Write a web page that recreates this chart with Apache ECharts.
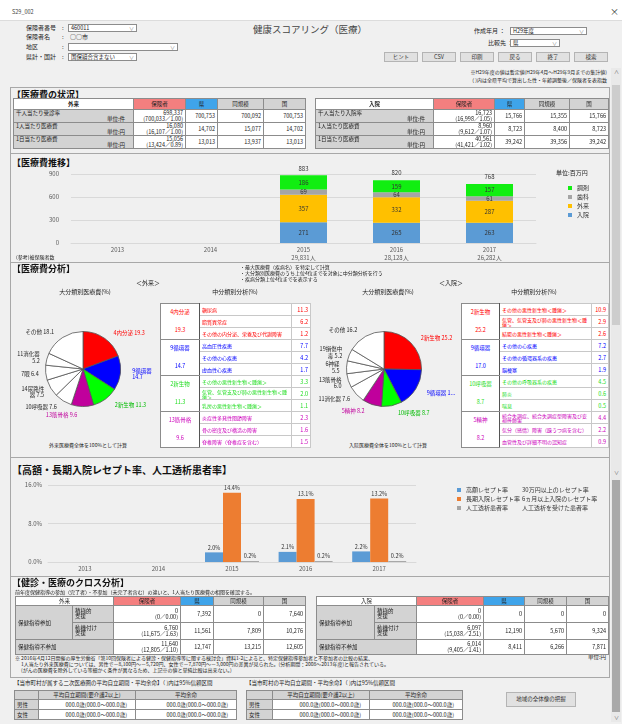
<!DOCTYPE html>
<html lang="ja">
<head>
<meta charset="utf-8">
<title>健康スコアリング（医療）</title>
<script src="https://cdn.jsdelivr.net/npm/echarts@6.0.0/dist/echarts.min.js"></script>
<style>
  html, body { margin: 0; padding: 0; }
  body { width: 622px; height: 724px; overflow: hidden; background: #f0f0f0; font-family: "Noto Sans CJK JP", "Noto Sans", sans-serif; color: #222; }
  #page { position: relative; width: 622px; height: 724px; }
  .a { position: absolute; white-space: nowrap; line-height: 1; }
  .f5 { font-size: 5px; }
  .f55 { font-size: 5.5px; }
  .f6 { font-size: 6px; }
  .ctr { text-align: center; width: 200px; }
  .head { font-size: 9px; font-weight: bold; color: #111; }
  .sel { position: absolute; box-sizing: border-box; height: 8px; background: #fff; border: 1px solid #8c8c8c; font-size: 5.5px; line-height: 6px; padding-left: 2px; white-space: nowrap; }
  .sel:after { content: "∨"; position: absolute; right: 2px; top: 0; color: #888; font-size: 5px; }
  .btn { position: absolute; box-sizing: border-box; top: 52px; width: 34px; height: 10px; background: #e1e1e1; border: 1px solid #b4b4b4; font-size: 5.5px; line-height: 8px; text-align: center; color: #333; }
  .box { position: absolute; left: 10px; width: 600px; box-sizing: border-box; border: 1px solid #a8a8a8; }
  table { position: absolute; border-collapse: collapse; table-layout: fixed; font-size: 5.5px; line-height: 6px; color: #222; }
  td { border: 1px solid #8c8c8c; padding: 0 2px; overflow: hidden; white-space: nowrap; background: #fff; }
  td.c { text-align: center; }
  td.r { text-align: right; }
  .chart { position: absolute; }
</style>
</head>
<body>
<div id="page">
  <!-- window title -->
  <div class="a" style="left:0;top:0;width:622px;height:20px;background:#fff;border-bottom:1px solid #dcdcdc"></div>
  <div class="a f55" style="left:12px;top:10px;color:#444">S29_002</div>
  <div class="a" style="left:610px;top:7px;font-size:9px;color:#333">×</div>

  <!-- form -->
  <div class="a f6" style="left:26px;top:25px">保険者番号</div><div class="a f6" style="left:62px;top:25px">:</div>
  <div class="sel" style="left:68px;top:24px;width:69px">460011</div>
  <div class="a f6" style="left:26px;top:34px">保険者名</div><div class="a f6" style="left:62px;top:34px">:</div>
  <div class="a f6" style="left:70px;top:34px">○○市</div>
  <div class="a f6" style="left:26px;top:44px">地区</div><div class="a f6" style="left:62px;top:44px">:</div>
  <div class="sel" style="left:68px;top:43px;width:110px"></div>
  <div class="a f6" style="left:26px;top:54px">県計・国計</div><div class="a f6" style="left:62px;top:54px">:</div>
  <div class="sel" style="left:68px;top:53px;width:69px">国保組合含まない</div>

  <div class="a" style="left:210px;top:25px;width:200px;text-align:center;font-size:9.5px;color:#444">健康スコアリング（医療）</div>

  <div class="a f6" style="left:474px;top:28px">作成年月 ：</div>
  <div class="sel" style="left:510px;top:27px;width:77px">H29年度</div>
  <div class="a f6" style="left:488px;top:40px">比較先 ：</div>
  <div class="sel" style="left:510px;top:39px;width:50px">県</div>

  <div class="btn" style="left:384px">ヒント</div>
  <div class="btn" style="left:422px">CSV</div>
  <div class="btn" style="left:460px">印刷</div>
  <div class="btn" style="left:498px">戻る</div>
  <div class="btn" style="left:536px">終了</div>
  <div class="btn" style="left:574px">検索</div>

  <div class="a f5" style="right:15px;top:69px">※H29年度の値は暫定値(H29年4月～H29年9月までの集計値)</div>
  <div class="a f5" style="right:15px;top:77px">（ )内は全県平均で算出した性・年齢調整後／保険者を表指数</div>

  <!-- scrollbars -->
  <div class="a" style="left:611px;top:68px;width:10px;height:654px;background:#e9e9e9"></div>
  <div class="a" style="left:612px;top:85px;width:8px;height:240px;background:#cdcdcd"></div>
  <div class="a" style="left:612px;top:480px;width:8px;height:232px;background:#a9a9a9"></div>
  <div class="a f5" style="left:614px;top:69px;color:#666">∧</div>
  <div class="a f5" style="left:614px;top:469px;color:#666">∨</div>
  <div class="a f5" style="left:614px;top:714px;color:#666">∨</div>

  <!-- section boxes -->
  <div class="box" style="top:87px;height:67px"></div>
  <div class="box" style="top:153px;height:110px"></div>
  <div class="box" style="top:262px;height:196px"></div>
  <div class="box" style="top:457px;height:120px"></div>
  <div class="box" style="top:576px;height:102px"></div>

  <!-- section 1 -->
  <div class="a head" style="left:12px;top:90px">【医療費の状況】</div>

  <!-- section 2 -->
  <div class="a head" style="left:12px;top:158px">【医療費推移】</div>
  <div class="chart" id="trendChart" style="left:10px;top:165px;width:600px;height:97px"></div>
  <div class="a f5" style="left:16px;top:254px">(参考)被保険者数</div>
  <div class="a f6" style="left:556px;top:170px">単位:百万円</div>

  <!-- section 3 -->
  <div class="a head" style="left:12px;top:264px">【医療費分析】</div>
  <div class="a f5" style="left:240px;top:264px">・最大医療費（疾病名）を特定して計算</div>
  <div class="a f5" style="left:240px;top:270px">・大分類別医療費のうち上位4位までを対象に中分類分析を行う</div>
  <div class="a f5" style="left:240px;top:276px">・疾病分類上位4位までを表示する</div>
  <div class="a f6 ctr" style="left:48px;top:280px">＜外来＞</div>
  <div class="a f6 ctr" style="left:351px;top:280px">＜入院＞</div>
  <div class="a f6 ctr" style="left:-15px;top:289px">大分類別医療費(%)</div>
  <div class="a f6 ctr" style="left:135px;top:289px">中分類別分析(%)</div>
  <div class="a f6 ctr" style="left:288px;top:289px">大分類別医療費(%)</div>
  <div class="a f6 ctr" style="left:434px;top:289px">中分類別分析(%)</div>
  <div class="chart" id="pieChart" style="left:0px;top:300px;width:460px;height:140px"></div>
  <div class="a f5 ctr" style="left:-12px;top:442px">外来医療費全体を100%として計算</div>
  <div class="a f5 ctr" style="left:288px;top:442px">入院医療費全体を100%として計算</div>

  <!-- section 4 -->
  <div class="a" style="left:12px;top:465px;font-size:10px;font-weight:bold;color:#111">【高額・長期入院レセプト率、人工透析患者率】</div>
  <div class="chart" id="rateChart" style="left:10px;top:475px;width:600px;height:103px"></div>

  <!-- section 5 -->
  <div class="a head" style="left:12px;top:578px">【健診・医療のクロス分析】</div>
  <div class="a f5" style="left:15px;top:589px">前年度保健指導の参加（完了者）・不参加（未完了者含む）の違いと、1人当たり医療費の相関を確認する。</div>
  <div class="a f5" style="left:15px;top:655px">※ 2016年4月12日開催の厚生労働省「第10回保険者による健診・保健指導等に関する検討会」資料1-2によると、特定保健指導参加者と不参加者の比較の結果、</div>
  <div class="a f5" style="left:21px;top:661px">1人当たり外来医療費については、男性で－8,100円～－5,720円、女性で－7,870円～－3,000円の差異が見られた。(分析期間：2008～2013年度)と報告されている。</div>
  <div class="a f5" style="left:21px;top:667px">(がんの医療費を除外している等細かく条件が異なるため、上記※の値と単純比較は出来ない。)</div>
  <div class="a f55" style="left:588px;top:655px">単位:円</div>

  <!-- bottom -->
  <div class="a f55" style="left:14px;top:681px">【当市町村が属する二次医療圏の平均自立期間・平均余命】（ )内は95%信頼区間</div>
  <div class="a f55" style="left:246px;top:681px">【当市町村の平均自立期間・平均余命】（ )内は95%信頼区間</div>
  <div class="btn" style="left:506px;top:692px;width:70px;height:15px;line-height:13px">地域の全体像の把握</div>
</div>

<script>
const FONT = '"Noto Sans CJK JP", "Noto Sans", sans-serif';
const PINK = '#f47f7f', BLUE = '#3fa4ea', GRAY = '#d3d3d3';

// ---- 医療費の状況 ----
const statusOutLabels = ['千人当たり受診率', '1人当たり医療費', '1日当たり医療費'];
const statusOutUnits = ['単位:件', '単位:円', '単位:円'];
const statusOutInsurer = ['698,337', '16,080', '15,056'];
const statusOutAdjusted = ['(700,033／1.00)', '(16,107／1.00)', '(13,424／0.89)'];
const statusOutPref = ['700,753', '14,702', '13,013'];
const statusOutSimilar = ['700,092', '15,077', '13,937'];
const statusOutNation = ['700,753', '14,702', '13,013'];

const statusInLabels = ['千人当たり入院率', '1人当たり医療費', '1日当たり医療費'];
const statusInUnits = ['単位:件', '単位:円', '単位:円'];
const statusInInsurer = ['16,723', '8,960', '40,561'];
const statusInAdjusted = ['(16,998／1.05)', '(9,612／1.07)', '(41,421／1.02)'];
const statusInPref = ['15,766', '8,723', '39,242'];
const statusInSimilar = ['15,355', '8,400', '39,356'];
const statusInNation = ['15,766', '8,723', '39,242'];

// ---- 医療費推移 (百万円) ----
const years = ['2013', '2014', '2015', '2016', '2017'];
const insuredCount = ['', '', '29,831人', '28,128人', '26,282人'];
const costInpatient = [null, null, 271, 265, 263];
const costOutpatient = [null, null, 357, 332, 287];
const costDental = [null, null, 69, 64, 61];
const costPharmacy = [null, null, 186, 159, 157];

// ---- 医療費分析 ----
const outPieNames = ['4内分泌', '9循環器', '2新生物', '13筋骨格', '10呼吸器', '14尿路性\n器', '7眼', '11消化器', 'その他'];
const outPieValues = [19.3, 14.7, 11.3, 9.6, 7.6, 7.5, 6.4, 5.2, 18.1];
const outPieBreak = [false, true, false, false, false, false, false, true, false];
const inPieNames = ['2新生物', '9循環器', '10呼吸器', '5精神', '11消化器', '13筋骨格', '6神経', '19損傷中\n毒', 'その他'];
const inPieValues = [25.2, 17.0, 8.7, 8.2, 7.6, 6.0, 5.5, 5.2, 16.2];
const inPieBreak = [false, false, false, false, false, true, true, false, false];

const outMajor = ['4内分泌', '9循環器', '2新生物', '13筋骨格'];
const outMajorValues = [19.3, 14.7, 11.3, 9.6];
const outMinor = [
  ['糖尿病', '脂質異常症', 'その他の内分泌、栄養及び代謝障害'],
  ['高血圧性疾患', 'その他の心疾患', '虚血性心疾患'],
  ['その他の悪性新生物＜腫瘍＞', '気管、気管支及び肺の悪性新生物＜腫瘍＞', '乳房の悪性新生物＜腫瘍＞'],
  ['炎症性多発性関節障害', '骨の密度及び構造の障害', '脊椎障害（脊椎症を含む）']
];
const outMinorValues = [[11.3, 6.2, 1.2], [7.7, 4.2, 1.7], [3.3, 2.0, 1.1], [2.3, 1.6, 1.5]];

const inMajor = ['2新生物', '9循環器', '10呼吸器', '5精神'];
const inMajorValues = [25.2, 17.0, 8.7, 8.2];
const inMinor = [
  ['その他の悪性新生物＜腫瘍＞', '気管、気管支及び肺の悪性新生物＜腫瘍＞', '結腸の悪性新生物＜腫瘍＞'],
  ['その他の心疾患', 'その他の循環器系の疾患', '脳梗塞'],
  ['その他の呼吸器系の疾患', '肺炎', '喘息'],
  ['統合失調症、統合失調症型障害及び妄想性障害', '気分（感情）障害（躁うつ病を含む）', '血管性及び詳細不明の認知症']
];
const inMinorValues = [[10.9, 2.9, 2.6], [7.2, 2.7, 1.9], [4.5, 0.6, 0.5], [4.4, 2.2, 0.9]];

// ---- 高額・長期入院レセプト率、人工透析患者率 (%) ----
const rateNames = ['高額レセプト率', '長期入院レセプト率', '人工透析患者率'];
const rateNotes = ['30万円以上のレセプト率', '6ヵ月以上入院のレセプト率', '人工透析を受けた患者率'];
const rateHigh = [null, null, 2.0, 2.1, 2.2];
const rateLong = [null, null, 14.4, 13.1, 13.2];
const rateDialysis = [null, null, 0.2, 0.2, 0.2];

// ---- 健診・医療のクロス分析 ----
const crossRowLabels = ['積極的<br>支援', '動機付け<br>支援'];
const crossOutInsurer = ['0', '6,760', '11,640'];
const crossOutAdjusted = ['(0／0.00)', '(11,675／1.63)', '(12,805／1.10)'];
const crossOutPref = ['7,392', '11,561', '12,747'];
const crossOutSimilar = ['0', '7,809', '13,215'];
const crossOutNation = ['7,640', '10,276', '12,605'];
const crossInInsurer = ['0', '6,097', '6,014'];
const crossInAdjusted = ['(0／0.00)', '(15,038／2.51)', '(9,405／1.41)'];
const crossInPref = ['0', '12,190', '8,411'];
const crossInSimilar = ['0', '5,670', '6,266'];
const crossInNation = ['0', '9,324', '7,871'];

// ---- 平均自立期間・平均余命 ----
const lifeRows = ['男性', '女性'];
const lifeIndependent = ['000.0歳(000.0～000.0歳)', '000.0歳(000.0～000.0歳)'];
const lifeExpectancy = ['000.0歳(000.0～000.0歳)', '000.0歳(000.0～000.0歳)'];

const page = document.getElementById('page');

function addTable(left, top, widths, rows, extraStyle) {
    const t = document.createElement('table');
    t.style.left = left + 'px';
    t.style.top = top + 'px';
    t.style.width = widths.reduce((a, b) => a + b, 0) + 'px';
    if (extraStyle) t.style.cssText += extraStyle;
    t.innerHTML = '<colgroup>' + widths.map(w => `<col style="width:${w}px">`).join('') + '</colgroup>' + rows.join('');
    page.appendChild(t);
    return t;
}

function headerCells() {
    return `<td class="c" style="background:${PINK}">保険者</td><td class="c" style="background:${BLUE}">県</td>` +
        `<td class="c" style="background:${GRAY}">同規模</td><td class="c" style="background:${GRAY}">国</td>`;
}

function statusTable(left, widths, title, labels, units, ins, adj, pref, sim, nat) {
    const rows = [`<tr style="height:11px"><td class="c" style="font-weight:bold">${title}</td>${headerCells()}</tr>`];
    labels.forEach((lab, i) => {
        rows.push(`<tr style="height:13px"><td style="background:${GRAY}"><div>${lab}</div><div style="text-align:right;padding-right:6px">${units[i]}</div></td>` +
            `<td class="r"><div>${ins[i]}</div><div>${adj[i]}</div></td>` +
            `<td class="r">${pref[i]}</td><td class="r">${sim[i]}</td><td class="r">${nat[i]}</td></tr>`);
    });
    addTable(left, 98, widths, rows);
}
statusTable(13, [120, 52, 32, 46, 42], '外来', statusOutLabels, statusOutUnits, statusOutInsurer, statusOutAdjusted, statusOutPref, statusOutSimilar, statusOutNation);
statusTable(315, [118, 61, 30, 45, 39], '入院', statusInLabels, statusInUnits, statusInInsurer, statusInAdjusted, statusInPref, statusInSimilar, statusInNation);

const groupColors = ['#ff0000', '#0000ff', '#22dd22', '#cc00bb'];

function minorTable(left, widths, major, majorValues, minor, minorValues) {
    const rows = [];
    major.forEach((m, g) => {
        minor[g].forEach((item, k) => {
            const col = groupColors[g];
            const topLine = (k === 0 && g > 0) ? ';border-top:1.5px solid #555' : '';
            let tr = `<tr style="height:12px${topLine}">`;
            if (k === 0) {
                tr += `<td rowspan="3" class="c" style="color:${col};line-height:9px;border-right:1px solid #555${topLine}">${m}<br><br>${majorValues[g].toFixed(1)}</td>`;
            }
            tr += `<td style="color:${col};white-space:normal;font-size:5px;line-height:5px;border-color:#c8c8c8">${item}</td>` +
                `<td class="r" style="color:${col};border-color:#c8c8c8">${minorValues[g][k].toFixed(1)}</td></tr>`;
            rows.push(tr);
        });
    });
    addTable(left, 303, widths, rows, 'border:1.5px solid #555');
}
minorTable(160, [39, 92, 19], outMajor, outMajorValues, outMinor, outMinorValues);
minorTable(461, [38, 92, 17], inMajor, inMajorValues, inMinor, inMinorValues);

function crossTable(left, widths, title, ins, adj, pref, sim, nat) {
    const rows = [`<tr style="height:9px"><td colspan="2" class="c">${title}</td>${headerCells()}</tr>`];
    [0, 1, 2].forEach(i => {
        let tr = `<tr style="height:${i < 2 ? 17 : 15}px">`;
        if (i === 0) tr += `<td rowspan="2" style="background:${GRAY}">保健指導参加</td>`;
        if (i < 2) tr += `<td style="background:${GRAY};line-height:5.5px">${crossRowLabels[i]}</td>`;
        else tr += `<td colspan="2" style="background:${GRAY}">保健指導不参加</td>`;
        tr += `<td class="r"><div>${ins[i]}</div><div>${adj[i]}</div></td><td class="r">${pref[i]}</td><td class="r">${sim[i]}</td><td class="r">${nat[i]}</td></tr>`;
        rows.push(tr);
    });
    addTable(left, 596, widths, rows);
}
crossTable(15, [57, 41, 67, 33, 50, 42], '外来', crossOutInsurer, crossOutAdjusted, crossOutPref, crossOutSimilar, crossOutNation);
crossTable(316, [58, 42, 67, 41, 42, 42], '入院', crossInInsurer, crossInAdjusted, crossInPref, crossInSimilar, crossInNation);

function lifeTable(left, widths) {
    const rows = [`<tr style="height:9px"><td style="background:${GRAY}"></td><td class="c" style="background:${GRAY}">平均自立期間(要介護2以上)</td><td class="c" style="background:${GRAY}">平均余命</td></tr>`];
    lifeRows.forEach((r, i) => {
        rows.push(`<tr style="height:10px"><td style="background:${GRAY}">${r}</td><td class="r" style="padding-right:8px">${lifeIndependent[i]}</td><td class="r" style="padding-right:8px">${lifeExpectancy[i]}</td></tr>`);
    });
    addTable(left, 690, widths, rows);
}
lifeTable(14, [24, 97, 101]);
lifeTable(246, [26, 97, 93]);

// ---- charts ----
const axisText = { fontSize: 6, color: '#595959', fontFamily: FONT };

const costTotal = costInpatient.map((v, i) => v == null ? null : v + costOutpatient[i] + costDental[i] + costPharmacy[i]);
const trendChart = echarts.init(document.getElementById('trendChart'));
const stackLabel = { show: true, fontSize: 6, color: '#333', fontFamily: FONT };
trendChart.setOption({
    animation: false,
    textStyle: { fontFamily: FONT },
    grid: { left: 61, right: 74, top: 9, bottom: 19 },
    legend: {
        data: ['調剤', '歯科', '外来', '入院'], orient: 'vertical', left: 553, top: 15,
        icon: 'rect', itemWidth: 4, itemHeight: 4, itemGap: 3,
        textStyle: { fontSize: 6, color: '#333', fontFamily: FONT }
    },
    xAxis: {
        type: 'category', data: years,
        axisTick: { show: false },
        axisLine: { lineStyle: { color: '#d9d9d9' } },
        axisLabel: { ...axisText, lineHeight: 8, margin: 3, formatter: (v, i) => insuredCount[i] ? v + '\n' + insuredCount[i] : v }
    },
    yAxis: {
        type: 'value', min: 0, max: 900, interval: 300,
        axisLabel: { ...axisText, margin: 12 },
        splitLine: { lineStyle: { color: '#d9d9d9' } }
    },
    series: [
        { name: '入院', type: 'bar', stack: 'cost', data: costInpatient, barWidth: 47, itemStyle: { color: '#5b9bd5' }, label: stackLabel },
        { name: '外来', type: 'bar', stack: 'cost', data: costOutpatient, barWidth: 47, itemStyle: { color: '#ffc000' }, label: stackLabel },
        { name: '歯科', type: 'bar', stack: 'cost', data: costDental, barWidth: 47, itemStyle: { color: '#a5a5a5' }, label: stackLabel },
        { name: '調剤', type: 'bar', stack: 'cost', data: costPharmacy, barWidth: 47, itemStyle: { color: '#11ee11' }, label: stackLabel },
        { name: '合計', type: 'bar', data: costTotal, barWidth: 47, barGap: '-100%', z: 1, itemStyle: { color: 'rgba(0,0,0,0)' },
          label: { show: true, position: 'top', distance: 4, fontSize: 6, color: '#333', fontFamily: FONT } }
    ]
});

const sliceColors = ['#ff0000', '#0000ff', '#00ff00', '#c0009c'];
const pieLabelColors = ['#ff0000', '#0000ff', '#00bb00', '#c0009c'];
function pieSeries(center, names, values, breaks) {
    return {
        type: 'pie', center: center, radius: 37.5, startAngle: 90, clockwise: true, silent: true,
        data: names.map((n, i) => ({
            name: n, value: values[i],
            itemStyle: { color: i < 4 ? sliceColors[i] : '#ffffff' },
            label: { color: i < 4 ? pieLabelColors[i] : '#222' }
        })),
        itemStyle: { borderColor: '#555', borderWidth: 0.8 },
        label: {
            show: true, fontSize: 5.5, lineHeight: 6.5, fontFamily: FONT,
            formatter: p => p.name + (breaks[p.dataIndex] ? '\n' : ' ') + p.value.toFixed(1)
        },
        labelLine: { show: false, length: 7, length2: 0 }
    };
}
const pieChart = echarts.init(document.getElementById('pieChart'));
pieChart.setOption({
    animation: false,
    series: [
        pieSeries([83, 69], outPieNames, outPieValues, outPieBreak),
        pieSeries([384, 69], inPieNames, inPieValues, inPieBreak)
    ]
});

const rateChart = echarts.init(document.getElementById('rateChart'));
const rateLabel = { show: true, position: 'top', distance: 2, fontSize: 5.5, color: '#333', fontFamily: FONT, formatter: p => p.value.toFixed(1) + '%' };
rateChart.setOption({
    animation: false,
    textStyle: { fontFamily: FONT },
    grid: { left: 38, right: 194, top: 10, bottom: 16 },
    legend: {
        data: rateNames, orient: 'vertical', left: 442, top: 7,
        icon: 'rect', itemWidth: 4, itemHeight: 4, itemGap: 3,
        formatter: name => `{n|${name}}{d|${rateNotes[rateNames.indexOf(name)]}}`,
        textStyle: { fontSize: 6, color: '#333', fontFamily: FONT, rich: { n: { width: 56, fontSize: 6, fontFamily: FONT }, d: { fontSize: 6, fontFamily: FONT } } }
    },
    xAxis: {
        type: 'category', data: years,
        axisTick: { show: false },
        axisLine: { lineStyle: { color: '#d9d9d9' } },
        axisLabel: { ...axisText, margin: 4 }
    },
    yAxis: {
        type: 'value', min: 0, max: 16, interval: 8,
        axisLabel: { ...axisText, margin: 6, formatter: v => v.toFixed(1) + '%' },
        splitLine: { lineStyle: { color: '#d9d9d9' } }
    },
    series: [
        { name: rateNames[0], type: 'bar', data: rateHigh, barWidth: 18, barGap: '0%', itemStyle: { color: '#5b9bd5' }, label: rateLabel },
        { name: rateNames[1], type: 'bar', data: rateLong, barWidth: 18, barGap: '0%', itemStyle: { color: '#ed7d31' }, label: rateLabel },
        { name: rateNames[2], type: 'bar', data: rateDialysis, barWidth: 18, barGap: '0%', itemStyle: { color: '#a5a5a5' }, label: rateLabel }
    ]
});
</script>
</body>
</html>
